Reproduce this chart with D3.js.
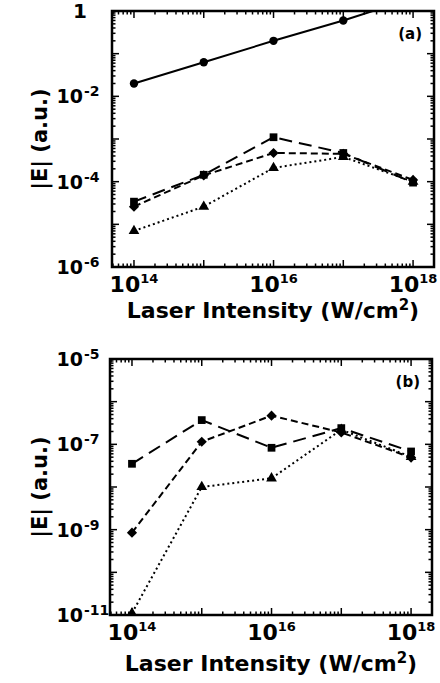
<!DOCTYPE html>
<html>
<head>
<meta charset="utf-8">
<script src="https://cdn.jsdelivr.net/npm/d3@7"></script>
<style>
  body { margin: 0; background: #fff; }
  svg { display: block; font-family: "DejaVu Sans", sans-serif; font-weight: bold; }
</style>
</head>
<body>
<svg width="440" height="683"></svg>
<script>
// laser intensities (W/cm2)
var intensity = [1e14, 1e15, 1e16, 1e17, 1e18];

// panel (a) values, |E| (a.u.)
var aCircle   = [0.02, 0.063, 0.2, 0.6, 2.0];
var aSquare   = [3.4e-5, 1.45e-4, 1.1e-3, 4.7e-4, 9.5e-5];
var aDiamond  = [2.6e-5, 1.4e-4, 4.7e-4, 4.5e-4, 1.1e-4];
var aTriangle = [7e-6, 2.6e-5, 2.1e-4, 3.8e-4, 1.0e-4];

// panel (b) values
var bSquare   = [3.5e-8, 3.7e-7, 8.3e-8, 2.4e-7, 6.8e-8];
var bDiamond  = [8.5e-10, 1.15e-7, 4.7e-7, 1.9e-7, 4.9e-8];
var bTriangle = [1.1e-11, 1.0e-8, 1.6e-8, 2.2e-7, 5.1e-8];

// tick labels (exponents)
var xLabelExp = [14, 16, 18];
var aLabelExp = [0, -2, -4, -6];
var bLabelExp = [-5, -7, -9, -11];

var svg = d3.select("svg");

var styles = {
  circle:   { dash: null,   sym: d3.symbolCircle,   size: 55, rot: 0 },
  square:   { dash: "13,7", sym: d3.symbolSquare,   size: 60, rot: 0 },
  diamond:  { dash: "7,4",  sym: d3.symbolSquare,   size: 52, rot: 45 },
  triangle: { dash: "2,3",  sym: d3.symbolTriangle, size: 50, rot: 0 }
};

function logTicks(scale) {
  var d = scale.domain(), out = [];
  var lo = Math.floor(Math.log10(d[0])), hi = Math.ceil(Math.log10(d[1]));
  for (var e = lo; e <= hi; e++) {
    for (var m = 1; m <= 9; m++) {
      var v = m * Math.pow(10, e);
      if (v >= d[0] * 0.999 && v <= d[1] * 1.001) out.push({ v: v, major: m === 1 });
    }
  }
  return out;
}

function drawPanel(id, box, yDomain, series, yExps, tag) {
  var x = d3.scaleLog().domain([Math.pow(10, 13.685), Math.pow(10, 18.3)]).range([box.left, box.right]);
  var y = d3.scaleLog().domain(yDomain).range([box.bottom, box.top]);
  var g = svg.append("g");

  g.append("clipPath").attr("id", "clip" + id)
    .append("rect")
    .attr("x", box.left).attr("y", box.top)
    .attr("width", box.right - box.left).attr("height", box.bottom - box.top);

  // ticks inside the frame on all four sides
  var xt = logTicks(x), yt = logTicks(y);
  g.selectAll("line.xb").data(xt).enter().append("line")
    .attr("x1", function(d) { return x(d.v); }).attr("x2", function(d) { return x(d.v); })
    .attr("y1", box.bottom).attr("y2", function(d) { return box.bottom - (d.major ? 7 : 3.5); })
    .attr("stroke", "#000").attr("stroke-width", 1.5);
  g.selectAll("line.xt").data(xt).enter().append("line")
    .attr("x1", function(d) { return x(d.v); }).attr("x2", function(d) { return x(d.v); })
    .attr("y1", box.top).attr("y2", function(d) { return box.top + (d.major ? 7 : 3.5); })
    .attr("stroke", "#000").attr("stroke-width", 1.5);
  g.selectAll("line.yl").data(yt).enter().append("line")
    .attr("y1", function(d) { return y(d.v); }).attr("y2", function(d) { return y(d.v); })
    .attr("x1", box.left).attr("x2", function(d) { return box.left + (d.major ? 7 : 3.5); })
    .attr("stroke", "#000").attr("stroke-width", 1.5);
  g.selectAll("line.yr").data(yt).enter().append("line")
    .attr("y1", function(d) { return y(d.v); }).attr("y2", function(d) { return y(d.v); })
    .attr("x1", box.right).attr("x2", function(d) { return box.right - (d.major ? 7 : 3.5); })
    .attr("stroke", "#000").attr("stroke-width", 1.5);

  // frame
  g.append("rect")
    .attr("x", box.left).attr("y", box.top)
    .attr("width", box.right - box.left).attr("height", box.bottom - box.top)
    .attr("fill", "none").attr("stroke", "#000").attr("stroke-width", 2.5);

  // series lines and markers
  var plot = g.append("g").attr("clip-path", "url(#clip" + id + ")");
  var line = d3.line()
    .x(function(d) { return x(d[0]); })
    .y(function(d) { return y(d[1]); });

  series.forEach(function(s) {
    var st = styles[s.kind];
    var pts = d3.zip(intensity, s.values);
    plot.append("path")
      .datum(pts)
      .attr("d", line)
      .attr("fill", "none").attr("stroke", "#000").attr("stroke-width", 2)
      .attr("stroke-dasharray", st.dash);
    plot.selectAll("path.m" + s.kind).data(pts).enter().append("path")
      .attr("d", d3.symbol().type(st.sym).size(st.size))
      .attr("transform", function(d) { return "translate(" + x(d[0]) + "," + y(d[1]) + ") rotate(" + st.rot + ")"; })
      .attr("fill", "#000");
  });

  // x tick labels
  var xl = g.selectAll("text.xl").data(xLabelExp).enter().append("text")
    .attr("x", function(d) { return x(Math.pow(10, d)); })
    .attr("y", box.bottom + 25)
    .attr("text-anchor", "middle")
    .attr("font-size", 22);
  xl.append("tspan").text("10");
  xl.append("tspan").attr("font-size", 13).attr("dy", -9).text(function(d) { return d; });

  // y tick labels
  yExps.forEach(function(e) {
    var yy = y(Math.pow(10, e)) + 7;
    if (e === 0) {
      g.append("text").attr("x", 87).attr("y", yy).attr("text-anchor", "end")
        .attr("font-size", 20).text("1");
    } else {
      g.append("text").attr("x", 83).attr("y", yy).attr("text-anchor", "end")
        .attr("font-size", 19).text("10");
      g.append("text").attr("x", 84).attr("y", yy - 7)
        .attr("font-size", 14).text("-" + Math.abs(e));
    }
  });

  // axis titles
  var xt2 = g.append("text")
    .attr("x", (box.left + box.right) / 2).attr("y", box.titleY)
    .attr("text-anchor", "middle").attr("font-size", 22);
  xt2.append("tspan").text("Laser Intensity (W/cm");
  xt2.append("tspan").attr("font-size", 15).attr("dy", -8).text("2");
  xt2.append("tspan").attr("dy", 8).text(")");

  g.append("text")
    .attr("transform", "translate(47," + ((box.top + box.bottom) / 2) + ") rotate(-90)")
    .attr("text-anchor", "middle").attr("font-size", 21)
    .text("|E|  (a.u.)");

  // panel tag
  g.append("text")
    .attr("x", box.right - 12).attr("y", box.top + 28)
    .attr("text-anchor", "end").attr("font-size", 15)
    .text(tag);
}

drawPanel("a", { left: 112, right: 434, top: 11, bottom: 267, titleY: 318 }, [1e-6, 1],
  [{ kind: "circle", values: aCircle },
   { kind: "square", values: aSquare },
   { kind: "diamond", values: aDiamond },
   { kind: "triangle", values: aTriangle }],
  aLabelExp, "(a)");

drawPanel("b", { left: 110, right: 432, top: 359, bottom: 615, titleY: 671 }, [1e-11, 1e-5],
  [{ kind: "square", values: bSquare },
   { kind: "diamond", values: bDiamond },
   { kind: "triangle", values: bTriangle }],
  bLabelExp, "(b)");
</script>
</body>
</html>
